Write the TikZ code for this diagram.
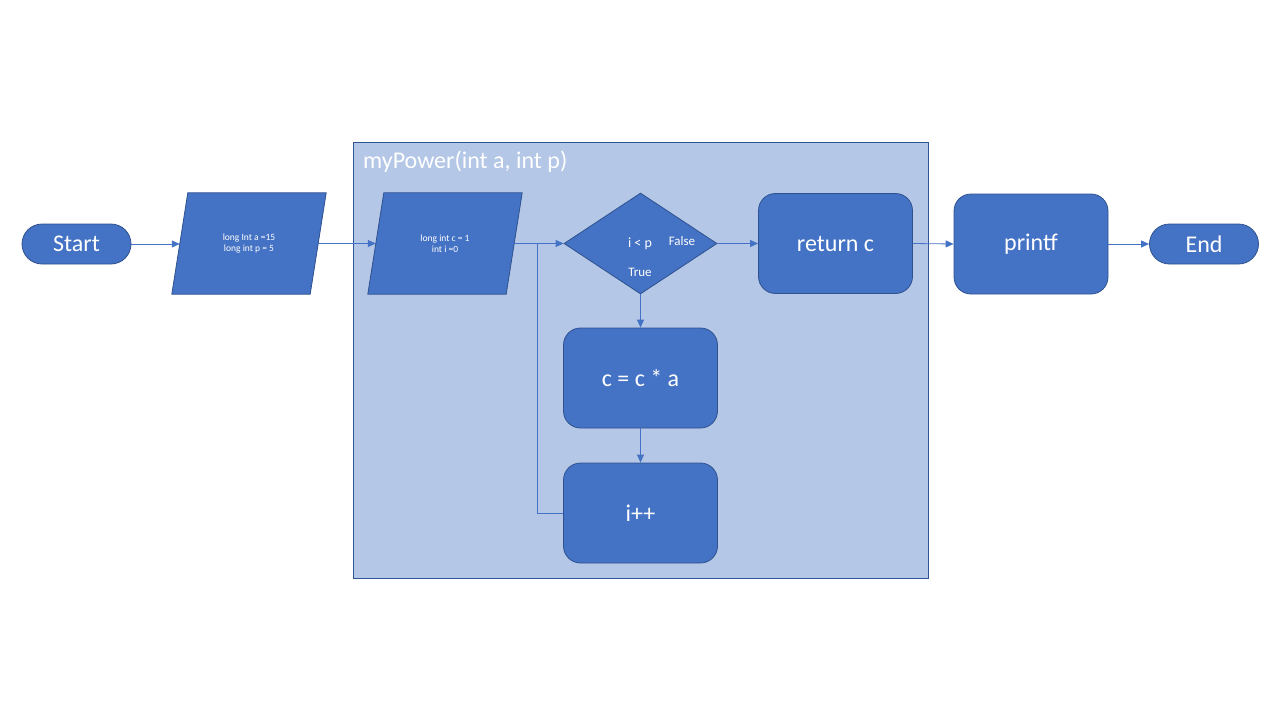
\documentclass[tikz,border=0pt]{standalone}
\usepackage{fontspec}
\setmainfont{Carlito}
\usetikzlibrary{arrows.meta,shapes.geometric}
\definecolor{boxfill}{HTML}{4472C4}
\definecolor{boxline}{HTML}{2F528F}
\definecolor{contfill}{HTML}{B4C7E7}
\definecolor{contline}{HTML}{2F5597}
\tikzset{
  base/.style={fill=boxfill, draw=boxline, line width=0.8pt, text=white, align=center, inner sep=0pt},
  pill/.style={base, rectangle, rounded corners=20pt, minimum width=109pt, minimum height=40pt, font=\fontsize{24}{28}\selectfont},
  proc/.style={base, rectangle, rounded corners=17pt, minimum width=154pt, minimum height=100pt, font=\fontsize{24}{28}\selectfont},
  ioframe/.style={rectangle, inner sep=0pt, minimum width=138pt, minimum height=101pt},
  iotext/.style={text=white, align=center, inner sep=0pt, font=\fontsize{9.5}{11}\selectfont},
  decide/.style={base, diamond, minimum width=153pt, minimum height=101pt, aspect=1.5},
  lbl/.style={text=white, font=\fontsize{13}{15}\selectfont, inner sep=0pt},
  conn/.style={draw=boxfill, line width=0.8pt, -{Triangle[length=8pt,width=7pt]}},
  connp/.style={draw=boxfill, line width=0.8pt},
}
\begin{document}
\begin{tikzpicture}[x=1pt,y=-1pt]
\useasboundingbox (0,0) rectangle (1280,720);
\node[draw=contline, fill=contfill, line width=0.8pt, minimum width=575pt, minimum height=436pt, inner sep=0pt] (cont) at (640.5,360) {};
\node[anchor=west, inner sep=0pt, text=white, font=\fontsize{24}{28}\selectfont] (title) at (363,162) {myPower(int a, int p)};

\node[pill] (start) at (76.5,244) {Start};
\node[ioframe] (in1) at (249,243.5) {};
\draw[base] ([xshift=8pt]in1.north west) -- ([xshift=8pt]in1.north east) -- ([xshift=-8pt]in1.south east) -- ([xshift=-8pt]in1.south west) -- cycle;
\node[iotext] (in1t) at (in1) {long Int a =15\\long int p = 5};
\node[ioframe] (in2) at (445,243.5) {};
\draw[base] ([xshift=8pt]in2.north west) -- ([xshift=8pt]in2.north east) -- ([xshift=-8pt]in2.south east) -- ([xshift=-8pt]in2.south west) -- cycle;
\node[iotext] (in2t) at (in2) {long int c = 1\\int i =0};
\node[decide] (dec) at (640.5,243.5) {};
\node[lbl, font=\fontsize{14}{16}\selectfont] (cond) at (640,244) {i < p};
\node[lbl] (fl) at (682,241) {False};
\node[lbl] (tl) at (640,272) {True};
\node[proc] (ret) at (835.5,243.5) {return c};
\node[proc] (pf) at (1031,244) {printf};
\node[pill] (end) at (1204,244) {End};
\node[proc] (mul) at (640.5,378) {c = c * a};
\node[proc] (inc) at (640.5,513) {i++};

\coordinate (join) at (537,244);
\draw[conn] (start.east) -- (in1.west |- start.east);
\draw[conn] (in1.east) -- (in2.west);
\draw[conn] (in2.east) -- (dec.west);
\draw[conn] (dec.east) -- (ret.west);
\draw[conn] (ret.east) -- (pf.west);
\draw[conn] (pf.east) -- (end.west);
\draw[conn] (dec.south) -- (mul.north);
\draw[conn] (mul.south) -- (inc.north);
\draw[connp] (inc.west) -| (join);
\end{tikzpicture}
\end{document}
